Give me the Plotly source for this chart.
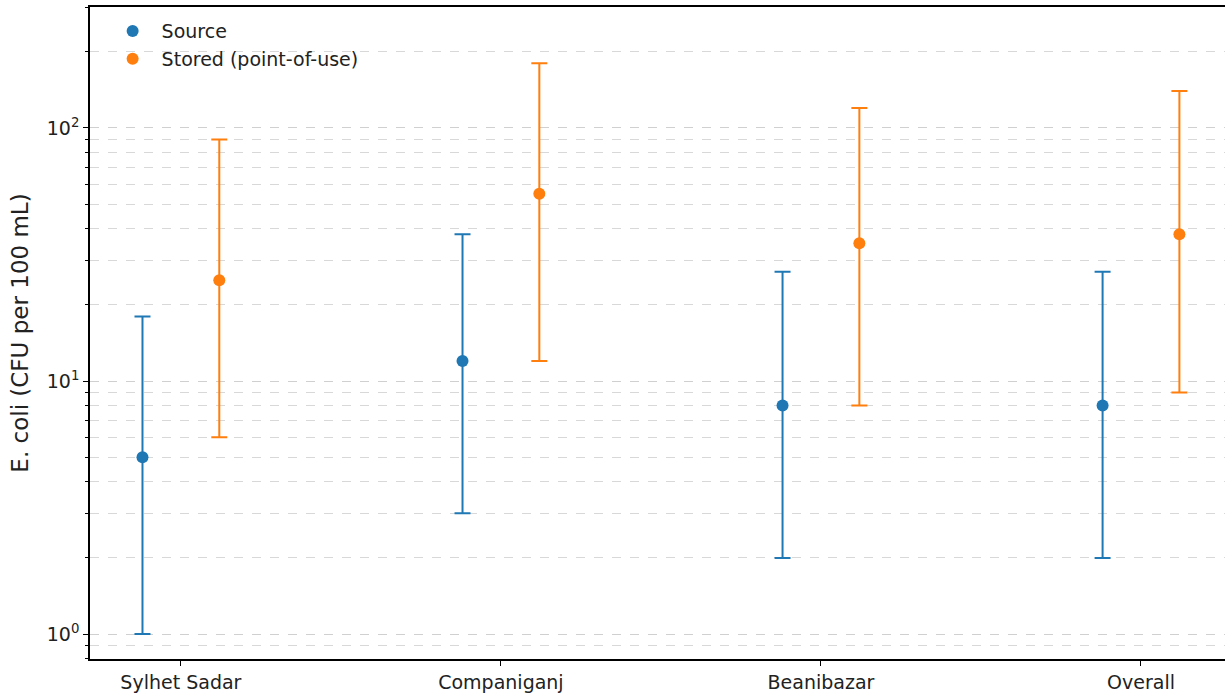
import plotly.graph_objects as go

categories = ["Sylhet Sadar", "Companiganj", "Beanibazar", "Overall"]
source_median = [5, 12, 8, 8]
source_low = [1, 3, 2, 2]
source_high = [18, 38, 27, 27]
stored_median = [25, 55, 35, 38]
stored_low = [6, 12, 8, 9]
stored_high = [90, 180, 120, 140]

offset = 0.12
blue = "#1f77b4"
orange = "#ff7f0e"

fig = go.Figure()

def add_series(name, med, lo, hi, color, shift):
    xs = [i + shift for i in range(len(categories))]
    fig.add_trace(go.Scatter(
        x=xs, y=med, mode="markers", name=name,
        marker=dict(color=color, size=12),
        error_y=dict(type="data", symmetric=False,
                     array=[h - m for h, m in zip(hi, med)],
                     arrayminus=[m - l for m, l in zip(med, lo)],
                     color=color, thickness=2, width=8),
    ))

add_series("Source", source_median, source_low, source_high, blue, -offset)
add_series("Stored (point-of-use)", stored_median, stored_low, stored_high, orange, offset)

minor_vals = [v * 10 ** k for k in range(-1, 3) for v in range(2, 10)]

fig.update_layout(
    width=1225, height=696,
    margin=dict(l=90, r=0, t=7, b=37, autoexpand=False),
    plot_bgcolor="white", paper_bgcolor="white",
    font=dict(family="DejaVu Sans", size=19, color="#222"),
    showlegend=True,
    legend=dict(x=0.012, y=0.992, xanchor="left", yanchor="top",
                bgcolor="rgba(255,255,255,0)", font=dict(size=19),
                tracegroupgap=0, itemwidth=48),
    xaxis=dict(
        range=[-0.284, 3.2625],
        tickmode="array", tickvals=list(range(len(categories))), ticktext=categories,
        showgrid=False, zeroline=False,
        showline=True, linecolor="black", linewidth=1.5, mirror=True,
        ticks="outside", ticklen=5, tickcolor="black", tickwidth=1.2,
    ),
    yaxis=dict(
        type="log", range=[-0.0985, 2.478],
        tickmode="array", tickvals=[1, 10, 100],
        ticktext=["10<sup>0</sup>", "10<sup>1</sup>", "10<sup>2</sup>"],
        showgrid=True, gridcolor="#d0d0d0", griddash="dash", gridwidth=1,
        zeroline=False,
        showline=True, linecolor="black", linewidth=1.5,
        ticks="outside", ticklen=5, tickcolor="black", tickwidth=1.2,
        title=dict(text="E. coli (CFU per 100 mL)", standoff=12),
        minor=dict(tickmode="array", tickvals=minor_vals, ticks="outside",
                   ticklen=3, tickcolor="black", showgrid=True,
                   gridcolor="#d8d8d8", griddash="dash", gridwidth=1),
    ),
)

fig.write_html("out.html", config={"displayModeBar": False},
               post_script="document.body.style.margin='0';")
